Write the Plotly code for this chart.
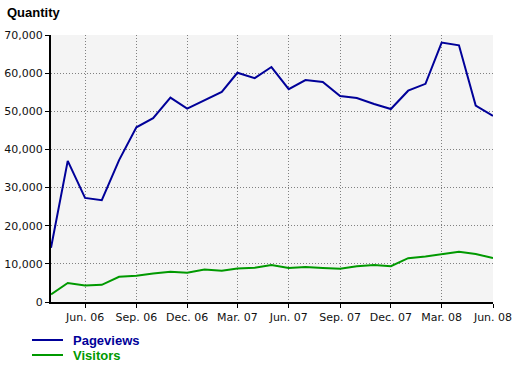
import plotly.graph_objects as go
import pandas as pd

months = pd.date_range("2006-04-01", "2008-06-01", freq="MS")
pageviews = [14200, 37000, 27300, 26700, 37200, 45800, 48200, 53600, 50700, 52800,
             55100, 60100, 58700, 61600, 55800, 58200, 57700, 54000, 53500, 51900,
             50600, 55400, 57200, 68000, 67300, 51500, 48800]
visitors = [2000, 5000, 4300, 4500, 6600, 6900, 7500, 7900, 7700, 8500,
            8200, 8800, 9000, 9700, 8900, 9200, 8900, 8700, 9400, 9700,
            9400, 11500, 11900, 12600, 13200, 12600, 11500]
tick_dates = pd.date_range("2006-06-01", "2008-06-01", freq="3MS")

blue = "#000099"
green = "#009900"

fig = go.Figure()
fig.add_trace(go.Scatter(x=months, y=pageviews, mode="lines", name="Pageviews",
                         line=dict(color=blue, width=2)))
fig.add_trace(go.Scatter(x=months, y=visitors, mode="lines", name="Visitors",
                         line=dict(color=green, width=2)))

tickfont = dict(family="DejaVu Sans", size=11, color="#111111")
grid = dict(showgrid=True, gridcolor="#808080", griddash="1px,2px", gridwidth=1,
            showline=True, linecolor="black", linewidth=2,
            ticks="outside", ticklen=4, tickcolor="black", tickwidth=1,
            tickfont=tickfont, zeroline=False, automargin=False)
fig.update_layout(
    width=520, height=366,
    margin=dict(l=51, r=27, t=35, b=64, autoexpand=False),
    paper_bgcolor="white", plot_bgcolor="#f4f4f4",
    showlegend=False,
    xaxis=dict(range=[months[0], months[-1]], tickvals=tick_dates, tickformat="%b. %y", **grid),
    yaxis=dict(range=[0, 70000], dtick=10000, tickformat=",", **grid),
)
fig.add_annotation(text="<b>Quantity</b>", xref="paper", yref="paper",
                   x=(6 - 51) / 442, y=1 + 23/267, xanchor="left", yanchor="middle",
                   showarrow=False, borderpad=0,
                   font=dict(family="Liberation Sans", size=13, color="black"))

legend_items = [("Pageviews", blue, 340), ("Visitors", green, 355)]
for name, col, py in legend_items:
    yp = (302 - py) / 267
    fig.add_shape(type="line", xref="paper", yref="paper",
                  x0=(32 - 51) / 442, x1=(63 - 51) / 442, y0=yp, y1=yp,
                  line=dict(color=col, width=2))
    fig.add_annotation(text=f"<b>{name}</b>", xref="paper", yref="paper",
                       x=(72 - 51) / 442, y=yp, xanchor="left", yanchor="middle",
                       showarrow=False, borderpad=0,
                       font=dict(family="Liberation Sans", size=13, color=col))

fig.write_html("out.html")
